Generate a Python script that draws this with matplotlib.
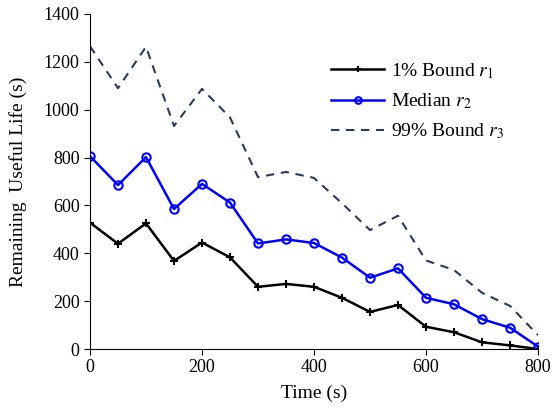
import matplotlib
matplotlib.use("Agg")
import matplotlib.pyplot as plt

time = [0, 50, 100, 150, 200, 250, 300, 350, 400, 450, 500, 550, 600, 650, 700, 750, 800]
bound1 = [528, 440, 525, 368, 445, 383, 260, 272, 260, 214, 155, 184, 93, 70, 28, 15, 0]
median = [806, 685, 802, 585, 690, 612, 441, 458, 443, 382, 298, 337, 214, 187, 125, 89, 10]
bound99 = [1265, 1090, 1263, 932, 1087, 968, 718, 740, 715, 609, 497, 557, 370, 330, 235, 180, 58]
xticks = [0, 200, 400, 600, 800]
yticks = [0, 200, 400, 600, 800, 1000, 1200, 1400]

plt.rcParams['font.family'] = ['Liberation Serif', 'DejaVu Serif']
plt.rcParams['mathtext.fontset'] = 'stix'

fig = plt.figure(figsize=(5.55, 4.11), dpi=100)
ax = fig.add_axes([90/555, 1-349/411, 448/555, 335/411])

ax.plot(time, bound1, color='black', lw=1.8, marker='+', ms=6, mew=1.5, label=r'1% Bound $r_1$')
ax.plot(time, median, color='#0000ff', lw=1.8, marker='o', ms=6, mfc='none', mew=1.5, label=r'Median $r_2$')
ax.plot(time, bound99, color='#2b3a5c', lw=1.5, ls=(0, (4, 3.2)), label=r'99% Bound $r_3$')

ax.set_xlim(0, 800)
ax.set_ylim(0, 1400)
ax.set_xticks(xticks)
ax.set_yticks(yticks)
ax.spines['top'].set_visible(False)
ax.spines['right'].set_visible(False)
ax.tick_params(direction='out', labelsize=13, length=4)
ax.set_xlabel('Time (s)', fontsize=14, labelpad=6)
ax.set_ylabel('Remaining  Useful Life (s)', fontsize=14, labelpad=12)

ax.legend(loc='upper right', bbox_to_anchor=(0.962, 0.912), frameon=False, fontsize=14,
          handlelength=2.7, handletextpad=0.35, labelspacing=0.55, numpoints=1, markerscale=0.8)

fig.savefig('out.png', dpi=100)
